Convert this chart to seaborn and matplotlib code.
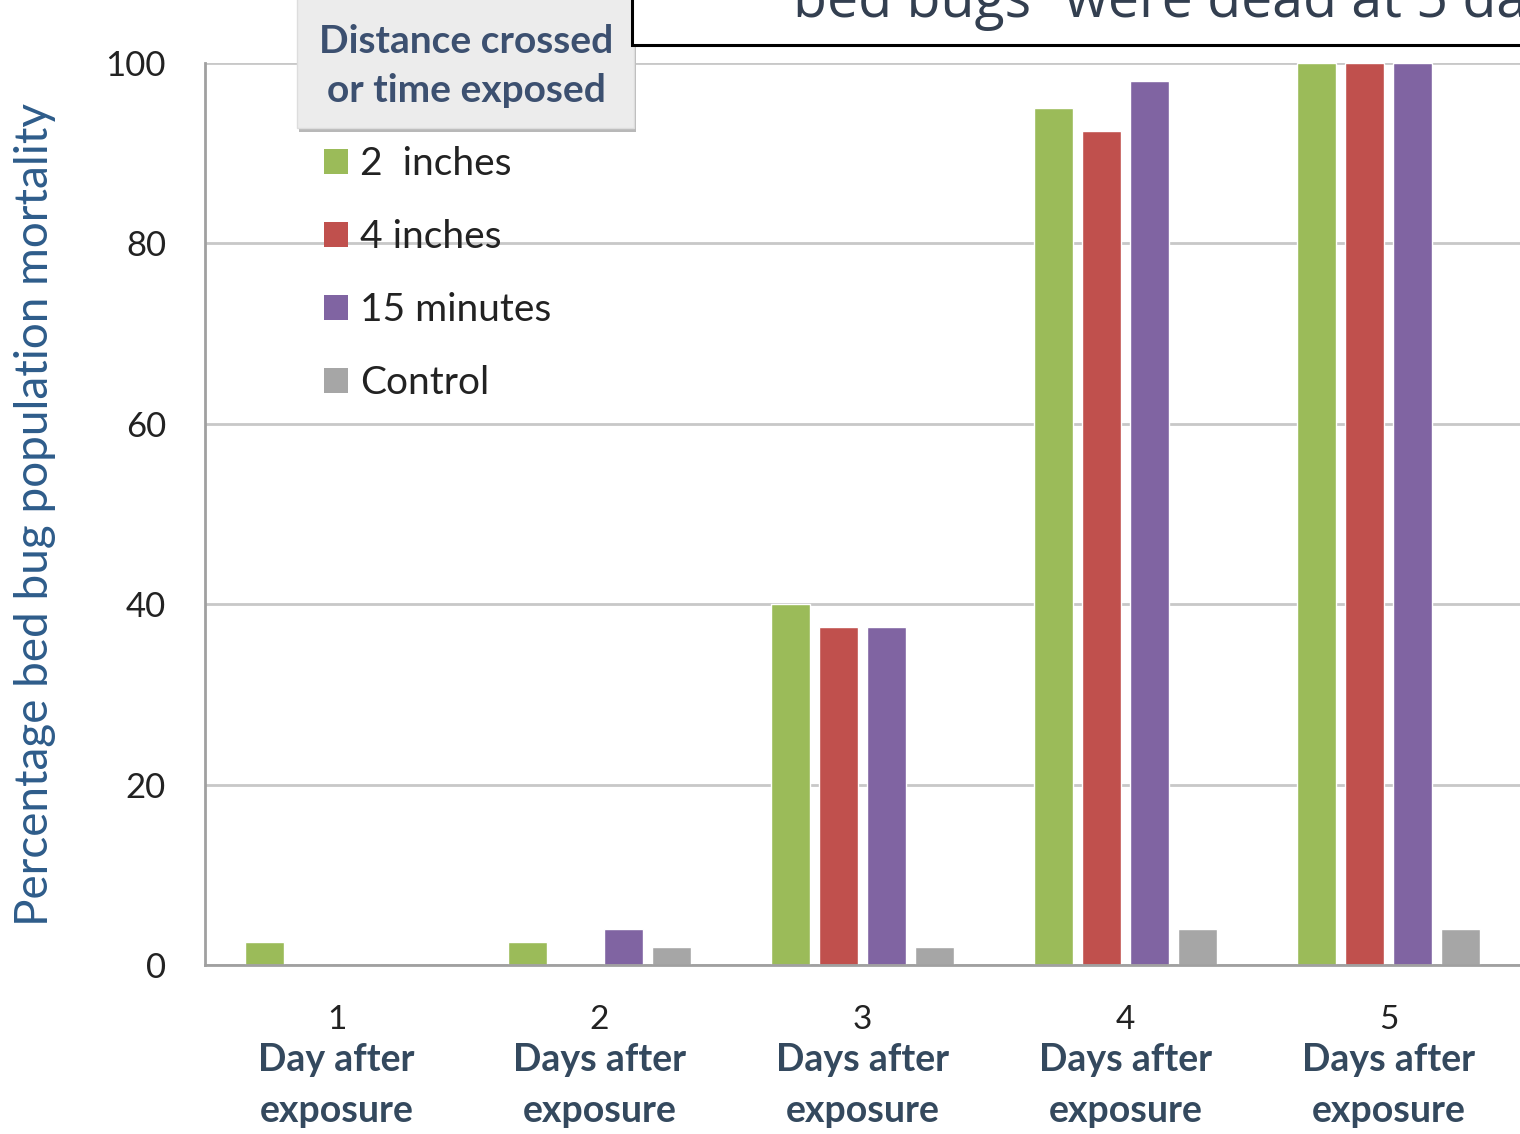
import matplotlib
matplotlib.use("Agg")
import matplotlib.pyplot as plt
from matplotlib.patches import Rectangle, Patch
import pandas as pd
import seaborn as sns

# Mortality (%) of bed bug populations, by day after exposure
days = ["1", "2", "3", "4", "5"]
day_captions = ["Day after\nexposure", "Days after\nexposure", "Days after\nexposure",
                "Days after\nexposure", "Days after\nexposure"]
series = ["2  inches", "4 inches", "15 minutes", "Control"]
two_inches = [2.5, 2.5, 40.0, 95.0, 100.0]
four_inches = [0.0, 0.0, 37.5, 92.5, 100.0]
fifteen_minutes = [0.0, 4.0, 37.5, 98.0, 100.0]
control = [0.0, 2.0, 2.0, 4.0, 4.0]
colors = ["#9BBB59", "#C0504D", "#8064A2", "#A6A6A6"]
y_ticks = [0, 20, 40, 60, 80, 100]
legend_title = "Distance crossed\nor time exposed"
y_label = "Percentage bed bug population mortality"
banner_text = "bed bugs\u201d were dead at 5 days"

rows = []
for name, vals in zip(series, [two_inches, four_inches, fifteen_minutes, control]):
    for d, v in zip(days, vals):
        rows.append({"day": d, "group": name, "mortality": v})
df = pd.DataFrame(rows)

sns.set_theme(style="white")
plt.rcParams["font.family"] = ["Lato", "DejaVu Sans"]

W, H = 1520, 1134
fig = plt.figure(figsize=(W / 100, H / 100), dpi=100)
ax = fig.add_axes([205 / W, 1 - 965 / H, 1 - 205 / W, (965 - 63) / H])

sns.barplot(data=df, x="day", y="mortality", hue="group", hue_order=series,
            order=days, palette=colors, width=0.73, gap=0.2, saturation=1,
            ax=ax, legend=True)

ax.set_ylim(0, 100)
ax.set_xlim(-0.5, 4.5)
ax.set_yticks(y_ticks)
ax.set_yticklabels([str(t) for t in y_ticks], fontsize=25, color="#222222")
ax.yaxis.grid(True, color="#C8C8C8", linewidth=2)
ax.set_axisbelow(True)
for side in ["top", "right"]:
    ax.spines[side].set_visible(False)
for side in ["left", "bottom"]:
    ax.spines[side].set_color("#A0A0A0")
    ax.spines[side].set_linewidth(2)
ax.tick_params(axis="both", length=0)
ax.tick_params(axis="y", pad=28)

ax.set_xticks(range(len(days)))
ax.set_xticklabels(days, fontsize=24, color="#222222")
ax.tick_params(axis="x", pad=29)
ax.set_xlabel("")
ax.set_ylabel(y_label, fontsize=33, color="#2E5C8A")
ax.yaxis.set_label_coords(-0.113, 0.5)

for i, cap in enumerate(day_captions):
    ax.text(i, -0.087, cap, transform=ax.get_xaxis_transform(), ha="center", va="top",
            fontsize=27, fontweight="bold", color="#34495E", linespacing=1.6)

# Legend: square swatches with a shaded title box above
ax.get_legend().remove()
handles = [Patch(facecolor=c, edgecolor="none") for c in colors]
fig.legend(handles, series, loc="upper left", bbox_to_anchor=(324 / W, 1 - 146 / H),
           frameon=False, fontsize=28, handlelength=0.62, handleheight=0.62,
           handletextpad=0.3, labelspacing=0.95, borderpad=0, borderaxespad=0,
           labelcolor="#222222")
fig.patches.append(Rectangle((299 / W, 1 - 132 / H), 337 / W, 134 / H,
                             transform=fig.transFigure, facecolor="#B8B8B8",
                             edgecolor="none", zorder=3))
fig.patches.append(Rectangle((297 / W, 1 - 128 / H), 337 / W, 130 / H,
                             transform=fig.transFigure, facecolor="#ECECEC",
                             edgecolor="#DDDDDD", linewidth=1.0, zorder=3))
fig.text(466 / W, 1 - 66 / H, legend_title, ha="center", va="center",
         fontsize=28, fontweight="bold", color="#3C5070", linespacing=1.5, zorder=4)

# Banner box in the upper right, running past the top and right edges
fig.patches.append(Rectangle((632 / W, 1 - 45 / H), 900 / W, 60 / H,
                             transform=fig.transFigure, facecolor="white",
                             edgecolor="black", linewidth=2.2, zorder=3))
fig.text(793 / W, 1 - 17 / H, banner_text, ha="left", va="baseline",
         fontsize=40, color="#333F50", zorder=4, family=["Open Sans", "DejaVu Sans"])

fig.savefig("out.png", dpi=100)
